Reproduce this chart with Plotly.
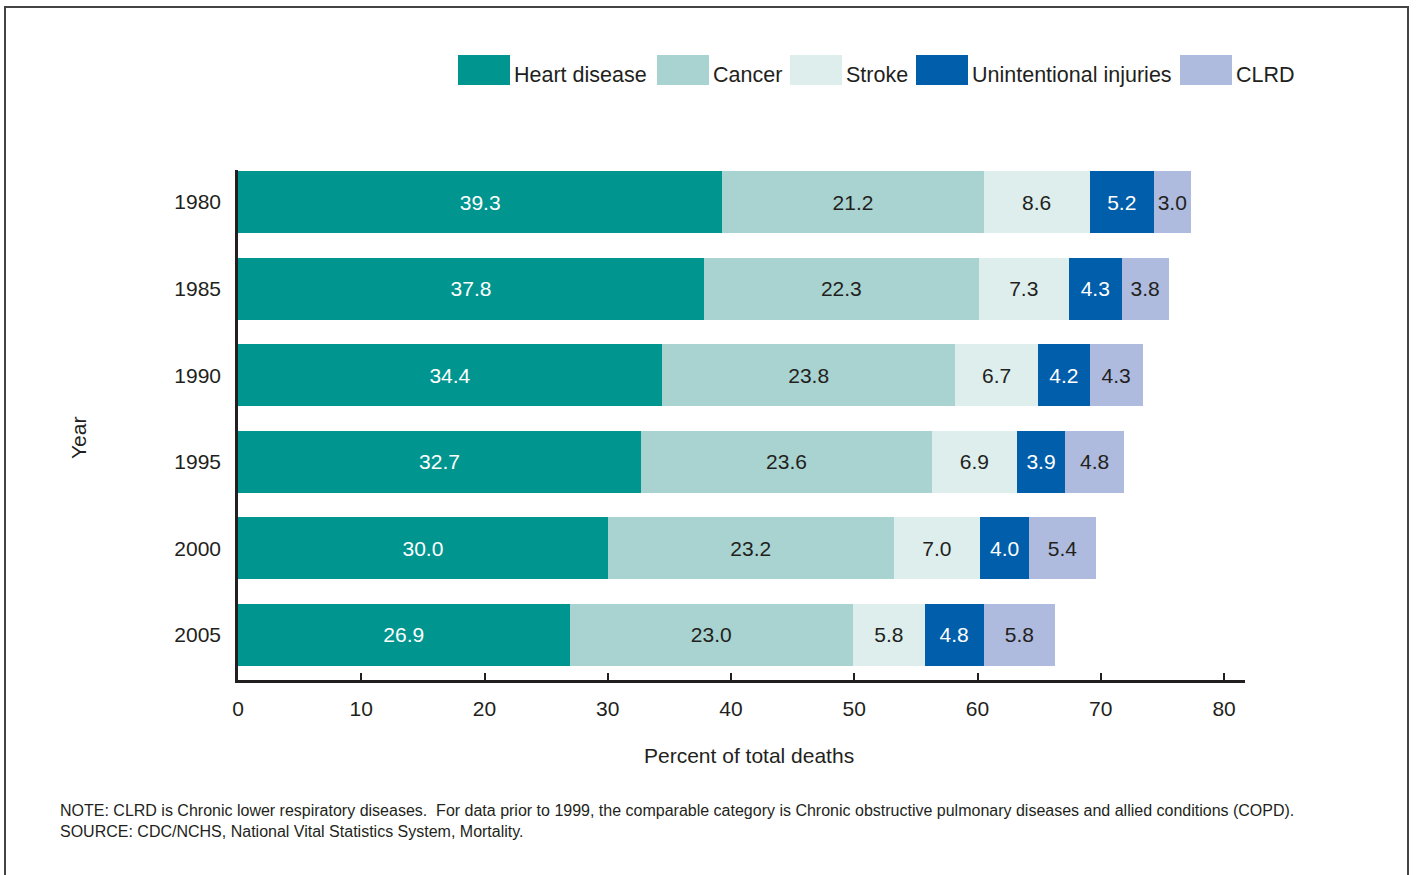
import plotly.graph_objects as go

years = ["1980", "1985", "1990", "1995", "2000", "2005"]
causes = ["Heart disease", "Cancer", "Stroke", "Unintentional injuries", "CLRD"]
heart = [39.3, 37.8, 34.4, 32.7, 30.0, 26.9]
cancer = [21.2, 22.3, 23.8, 23.6, 23.2, 23.0]
stroke = [8.6, 7.3, 6.7, 6.9, 7.0, 5.8]
injuries = [5.2, 4.3, 4.2, 3.9, 4.0, 4.8]
clrd = [3.0, 3.8, 4.3, 4.8, 5.4, 5.8]
x_ticks = [0, 10, 20, 30, 40, 50, 60, 70, 80]

series = [heart, cancer, stroke, injuries, clrd]
colors = ["#00958f", "#a8d3d1", "#ddeeed", "#005eab", "#aebbde"]
text_colors = ["white", "#231f20", "#231f20", "white", "#231f20"]

W, H = 1416, 875
L, R, T, B = 238, 1245, 170, 680
FONT = "Liberation Sans, Arial, sans-serif"
INK = "#231f20"

def px2x(px):
    return (px - L) / (R - L)

def py2y(py):
    return (B - py) / (B - T)

fig = go.Figure()
for name, vals, c, tc in zip(causes, series, colors, text_colors):
    fig.add_trace(go.Bar(
        y=years, x=vals, name=name, orientation="h",
        marker=dict(color=c, line=dict(width=0)),
        text=[f"{v:.1f}" for v in vals], textposition="inside",
        insidetextanchor="middle",
        textfont=dict(color=tc, size=21, family=FONT),
        showlegend=False, hoverinfo="x+name",
    ))

# manual legend with large swatches
leg_sw = [458, 657, 790, 916, 1180]
for name, c, sx in zip(causes, colors, leg_sw):
    fig.add_shape(type="rect", xref="paper", yref="paper",
                  x0=px2x(sx), x1=px2x(sx + 52), y0=py2y(85), y1=py2y(55),
                  fillcolor=c, line=dict(width=0))
    fig.add_annotation(xref="paper", yref="paper", x=px2x(sx + 54), y=py2y(75),
                       text=name, showarrow=False, xanchor="left", yanchor="middle",
                       font=dict(size=21.5, color=INK, family=FONT))

# outer border
fig.add_shape(type="rect", xref="paper", yref="paper",
              x0=px2x(5), x1=px2x(1408), y0=py2y(7), y1=py2y(890),
              line=dict(color="#444444", width=2), fillcolor="rgba(0,0,0,0)", layer="below")

fig.add_annotation(xref="paper", yref="paper", x=px2x(749), y=py2y(755),
                   xanchor="center", yanchor="middle",
                   text="Percent of total deaths", showarrow=False,
                   font=dict(size=21, color=INK, family=FONT))
fig.add_annotation(xref="paper", yref="paper", x=px2x(78), y=py2y(438),
                   xanchor="center", yanchor="middle",
                   text="Year", showarrow=False, textangle=-90,
                   font=dict(size=21, color=INK, family=FONT))
fig.add_annotation(xref="paper", yref="paper", x=px2x(58), y=py2y(821),
                   xanchor="left", yanchor="middle", align="left",
                   text="NOTE: CLRD is Chronic lower respiratory diseases.&nbsp; For data prior to 1999, the comparable category is Chronic obstructive pulmonary diseases and allied conditions (COPD).<br>SOURCE: CDC/NCHS, National Vital Statistics System, Mortality.",
                   showarrow=False, font=dict(size=16, color=INK, family=FONT))

fig.update_layout(
    width=W, height=H, barmode="stack", bargap=0.284,
    margin=dict(l=L, r=W - R, t=T, b=H - B, pad=0),
    paper_bgcolor="white", plot_bgcolor="white",
    font=dict(family=FONT, color=INK, size=21),
    uniformtext=dict(minsize=19, mode="show"),
    xaxis=dict(range=[0, 81.7], tickvals=x_ticks, ticks="inside", ticklen=7,
               tickwidth=2, tickcolor=INK, showline=True, linecolor=INK, linewidth=2.5,
               showgrid=False, zeroline=False, tickfont=dict(size=21),
               ticklabelstandoff=8),
    yaxis=dict(type="category", categoryorder="array", categoryarray=years,
               range=[5.52, -0.37], showline=True, linecolor=INK, linewidth=2.5,
               showgrid=False, zeroline=False, ticks="", tickfont=dict(size=21),
               ticklabelstandoff=10),
)
fig.write_html("out.html", config={"displayModeBar": False},
               post_script="document.body.style.margin='0';")
